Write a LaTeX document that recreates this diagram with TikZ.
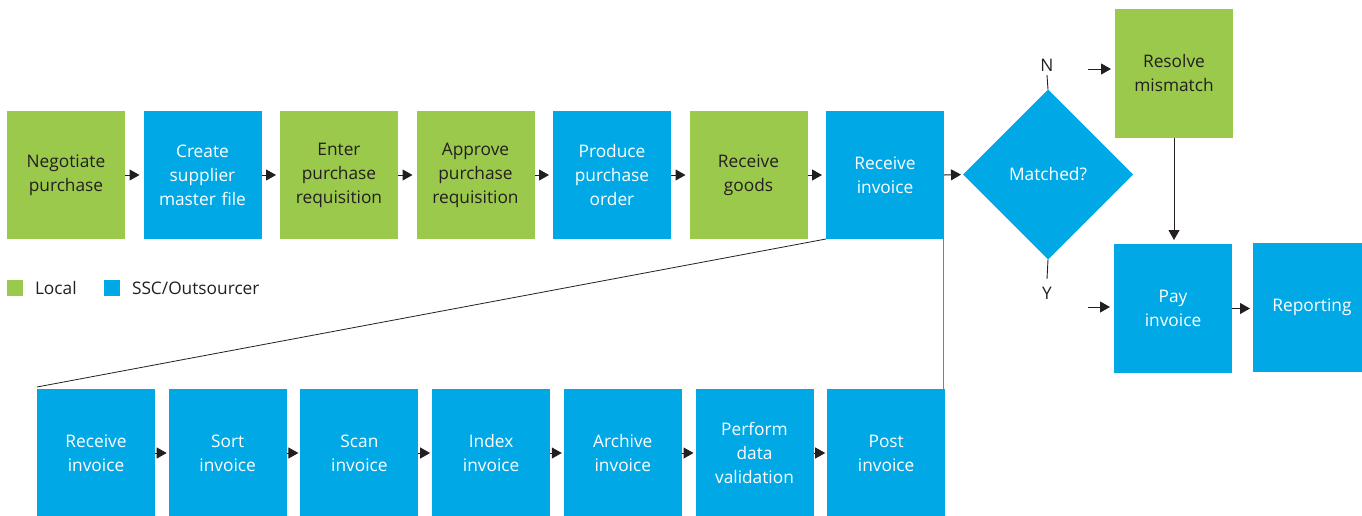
\documentclass[tikz,border=0pt]{standalone}
\usepackage{fontspec}
\setmainfont{Open Sans}
\usepackage{tikz}
\usetikzlibrary{calc,shapes.geometric,arrows.meta}
\definecolor{localgreen}{RGB}{155,201,75}
\definecolor{sscblue}{RGB}{0,169,230}
\definecolor{boxtext}{RGB}{35,31,32}

\begin{document}
\begin{tikzpicture}[inner sep=0pt,outer sep=0pt,x=1pt,y=1pt,
    every node/.style={font=\fontsize{17.3}{24}\selectfont, text=boxtext},
    localbox/.style={fill=localgreen, minimum width=118pt, minimum height=128pt, text width=114pt, align=center},
    sscbox/.style={localbox, fill=sscblue, text=white},
    flow/.style={draw=boxtext, line width=1pt, -{Triangle[length=10pt,width=11pt]}, shorten >=4pt}]

    \useasboundingbox (0,0) rectangle (1362,-515);

    % main process
    \node[localbox, anchor=north west] (neg) at (7,-111) {Negotiate\\purchase};
    \node[sscbox, anchor=west] (supp) at ($(neg.east)+(18.5,0)$) {Create\\supplier\\master file};
    \node[localbox, anchor=west] (req) at ($(supp.east)+(18.5,0)$) {Enter\\purchase\\requisition};
    \node[localbox, anchor=west] (appr) at ($(req.east)+(18.5,0)$) {Approve\\purchase\\requisition};
    \node[sscbox, anchor=west] (po) at ($(appr.east)+(18.5,0)$) {Produce\\purchase\\order};
    \node[localbox, anchor=west] (goods) at ($(po.east)+(18.5,0)$) {Receive\\goods};
    \node[sscbox, anchor=west] (inv) at ($(goods.east)+(18.5,0)$) {Receive\\invoice};

    \draw[flow] (neg.east) -- (supp.west);
    \draw[flow] (supp.east) -- (req.west);
    \draw[flow] (req.east) -- (appr.west);
    \draw[flow] (appr.east) -- (po.west);
    \draw[flow] (po.east) -- (goods.west);
    \draw[flow] (goods.east) -- (inv.west);

    % decision
    \node[shape=diamond, aspect=1, fill=sscblue, text=white, minimum width=170pt, minimum height=170pt] (match) at (1048,-174.5) {Matched?};
    \draw[flow, shorten >=2pt] (inv.east) -- (match.west);

    \node (lbl_n) at (1047,-65) {N};
    \node (lbl_y) at (1047,-293) {Y};
    \draw[draw=boxtext, line width=0.9pt] (match.north) -- ([yshift=-4pt]lbl_n.south);
    \draw[draw=boxtext, line width=0.9pt] (match.south) -- ([yshift=8pt]lbl_y.north);

    \node[localbox, anchor=north west, minimum height=129pt] (resolve) at (1115,-9) {Resolve\\mismatch};
    \node[sscbox, anchor=north west, minimum height=129pt] (pay) at (1114,-244) {Pay\\invoice};
    \node[sscbox, anchor=north west, minimum height=129pt] (report) at (1253,-243) {Reporting};

    \coordinate (n_start) at (1088,-69);
    \coordinate (y_start) at (1088,-307);
    \draw[flow] (n_start) -- (resolve.west |- n_start);
    \draw[flow] (y_start) -- (pay.west |- y_start);
    \draw[flow] (resolve.south) -- (resolve.south |- pay.north);
    \draw[flow, shorten >=3pt] (pay.east) -- (report.west |- pay.east);

    % legend
    \node[fill=localgreen, minimum size=16pt] (leg_local) at (15,-288) {};
    \node[anchor=west] (leg_local_txt) at ($(leg_local.east)+(12,0)$) {Local};
    \node[fill=sscblue, minimum size=16pt] (leg_ssc) at (112,-288) {};
    \node[anchor=west] (leg_ssc_txt) at ($(leg_ssc.east)+(12,0)$) {SSC/Outsourcer};

    % invoice detail
    \node[sscbox, anchor=north west] (b_recv) at (37,-389) {Receive\\invoice};
    \node[sscbox, anchor=west] (b_sort) at ($(b_recv.east)+(13.7,0)$) {Sort\\invoice};
    \node[sscbox, anchor=west] (b_scan) at ($(b_sort.east)+(13.7,0)$) {Scan\\invoice};
    \node[sscbox, anchor=west] (b_index) at ($(b_scan.east)+(13.7,0)$) {Index\\invoice};
    \node[sscbox, anchor=west] (b_arch) at ($(b_index.east)+(13.7,0)$) {Archive\\invoice};
    \node[sscbox, anchor=west] (b_valid) at ($(b_arch.east)+(13.7,0)$) {Perform\\data\\validation};
    \node[sscbox, anchor=west] (b_post) at ($(b_valid.east)+(13.7,0)$) {Post\\invoice};

    \draw[flow, shorten >=2pt] (b_recv.east) -- (b_sort.west);
    \draw[flow, shorten >=2pt] (b_sort.east) -- (b_scan.west);
    \draw[flow, shorten >=2pt] (b_scan.east) -- (b_index.west);
    \draw[flow, shorten >=2pt] (b_index.east) -- (b_arch.west);
    \draw[flow, shorten >=2pt] (b_arch.east) -- (b_valid.west);
    \draw[flow, shorten >=2pt] (b_valid.east) -- (b_post.west);

    % zoom lines
    \draw[draw=boxtext, line width=0.8pt] (inv.south west) -- ([yshift=2pt]b_recv.north west);
    \draw[draw=gray, line width=1pt] ([xshift=-1pt]inv.south east) -- ([xshift=-1pt]inv.south east |- b_post.north);

\end{tikzpicture}
\end{document}
